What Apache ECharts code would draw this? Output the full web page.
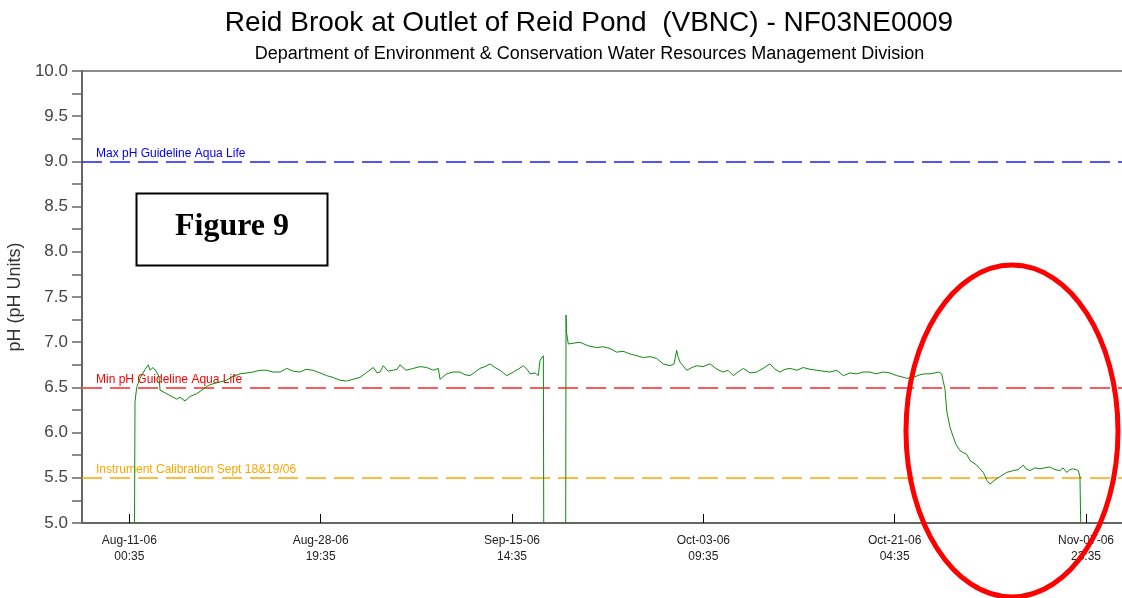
<!DOCTYPE html>
<html>
<head>
<meta charset="utf-8">
<script src="https://cdn.jsdelivr.net/npm/echarts@6/dist/echarts.min.js"></script>
<style>
html,body{margin:0;padding:0;background:#fff;}
#chart{width:1122px;height:598px;}
</style>
</head>
<body>
<div id="chart"></div>
<script>
// ---- data (hours since Aug-11-06 00:35, pH) ----
const titleText = 'Reid Brook at Outlet of Reid Pond  (VBNC) - NF03NE0009';
const subtitleText = 'Department of Environment & Conservation Water Resources Management Division';
const yAxisName = 'pH (pH Units)';
const figureLabel = 'Figure 9';

const xTickHours = [0, 427, 854, 1281, 1708, 2135];
const xTickDates = ['Aug-11-06', 'Aug-28-06', 'Sep-15-06', 'Oct-03-06', 'Oct-21-06', 'Nov-07-06'];
const xTickTimes = ['00:35', '19:35', '14:35', '09:35', '04:35', '23:35'];
const xMin = -105.6;
const xMax = 2215.4;

const guideValues = [9.0, 6.5, 5.5];
const guideLabels = ['Max pH Guideline Aqua Life', 'Min pH Guideline Aqua Life', 'Instrument Calibration Sept 18&19/06'];

const phHours = [
  11.6, 12.7, 16.5, 23.9, 35.4, 42.4, 46.2, 52.9, 59.6, 66.3, 68.5, 79.7, 90.8, 105.8, 113.1, 124.3,
  135.5, 150.4, 164.5, 175.6, 186.8, 202.4, 217.4, 231.4, 247.0, 262.7, 276.1, 291.7, 306.6, 320.7,
  336.3, 351.3, 365.3, 380.9, 394.4, 409.9, 425.6, 440.5, 454.6, 470.0, 485.2, 499.2, 514.9, 528.2,
  544.5, 552.8, 559.5, 566.8, 577.3, 589.2, 597.4, 604.1, 617.5, 633.8, 648.8, 663.7, 678.4, 689.6,
  693.4, 708.3, 722.4, 738.0, 749.2, 760.4, 771.5, 782.7, 793.8, 805.0, 816.2, 827.3, 842.3, 857.0,
  867.5, 879.3, 887.6, 894.3, 905.4, 912.8, 916.6, 924.0, 924.9,
  930.0,
  973.9, 974.6, 975.7, 979.7, 992.4, 1005.8, 1023.7, 1043.1, 1057.2, 1072.8, 1087.7, 1101.8, 1117.5,
  1133.1, 1147.1, 1162.1, 1177.0, 1191.7, 1206.7, 1215.6, 1221.6, 1224.5, 1229.0, 1243.9, 1255.8,
  1266.3, 1280.3, 1296.0, 1311.6, 1325.6, 1336.1, 1348.0, 1358.4, 1370.3, 1385.2, 1400.2, 1414.2,
  1429.9, 1441.0, 1452.2, 1463.3, 1474.5, 1490.1, 1504.2, 1519.1, 1534.1, 1548.1, 1563.8, 1578.7,
  1593.4, 1608.4, 1623.4, 1637.4, 1653.0, 1666.4, 1682.7, 1697.6, 1712.6, 1722.2, 1734.9, 1749.0,
  1764.6, 1775.7, 1786.9, 1798.0, 1805.4, 1813.0, 1815.9, 1820.4, 1824.2, 1831.5, 1838.9, 1845.0,
  1853.9, 1860.6, 1868.8, 1876.2, 1882.9, 1891.2, 1898.5, 1905.9, 1914.2, 1920.9, 1927.6, 1935.8,
  1945.4, 1958.1, 1972.8, 1983.3, 1995.1, 2001.2, 2010.1, 2021.3, 2032.4, 2043.6, 2054.7, 2065.9,
  2077.0, 2083.7, 2091.9, 2099.3, 2106.7, 2112.7, 2117.9, 2121.6, 2123.2
];
const phValues = [
  5.00, 6.34, 6.50, 6.60, 6.70, 6.75, 6.69, 6.72, 6.68, 6.62, 6.47, 6.44, 6.41, 6.37, 6.39, 6.35,
  6.40, 6.43, 6.48, 6.52, 6.54, 6.56, 6.58, 6.62, 6.65, 6.66, 6.67, 6.69, 6.69, 6.67,
  6.67, 6.71, 6.68, 6.67, 6.70, 6.69, 6.66, 6.63, 6.61, 6.58, 6.57, 6.59, 6.61, 6.66,
  6.72, 6.66, 6.67, 6.74, 6.68, 6.69, 6.70, 6.75, 6.69, 6.71, 6.73, 6.72, 6.69, 6.71,
  6.59, 6.65, 6.67, 6.67, 6.64, 6.63, 6.67, 6.71, 6.73, 6.76, 6.72, 6.69, 6.63, 6.67,
  6.70, 6.74, 6.70, 6.65, 6.66, 6.63, 6.80, 6.85, 5.00,
  null,
  5.00, 7.30, 7.11, 6.98, 6.99, 7.00, 6.96, 6.94, 6.95, 6.93, 6.89, 6.90, 6.87,
  6.85, 6.83, 6.84, 6.82, 6.76, 6.74, 6.76, 6.91, 6.84, 6.78, 6.69, 6.72,
  6.74, 6.73, 6.76, 6.70, 6.67, 6.69, 6.63, 6.67, 6.71, 6.66, 6.67, 6.71,
  6.76, 6.70, 6.67, 6.70, 6.71, 6.69, 6.72, 6.70, 6.69, 6.68, 6.67, 6.69,
  6.63, 6.66, 6.65, 6.67, 6.67, 6.65, 6.67, 6.66, 6.63, 6.62, 6.60, 6.61,
  6.64, 6.65, 6.65, 6.66, 6.67, 6.65, 6.58, 6.48, 6.24, 6.06, 5.95, 5.87,
  5.80, 5.78, 5.76, 5.69, 5.67, 5.64, 5.60, 5.56, 5.47, 5.43, 5.46, 5.49,
  5.52, 5.56, 5.58, 5.59, 5.64, 5.60, 5.58, 5.61, 5.60, 5.61, 5.62, 5.59,
  5.58, 5.61, 5.56, 5.59, 5.60, 5.59, 5.58, 5.51, 5.00
];

// ---- chart ----
const seriesData = phHours.map((h, i) => [h, phValues[i]]);
const axisColor = '#666';
const guideStyles = [
  { color: '#1a1aff', width: 1.5, label: '#0000ff' },
  { color: '#ff5a5a', width: 2, label: '#ff0000' },
  { color: '#ffa500', width: 1.5, label: '#ffa500' }
];

const chart = echarts.init(document.getElementById('chart'), null, { renderer: 'canvas' });

const option = {
  backgroundColor: '#ffffff',
  animation: false,
  title: [
    {
      text: titleText,
      left: 584, top: 4, textAlign: 'center',
      textStyle: { fontFamily: 'Liberation Sans, Arial', fontSize: 28, fontWeight: 'normal', color: '#000' }
    },
    {
      text: subtitleText,
      left: 584.5, top: 40, textAlign: 'center',
      textStyle: { fontFamily: 'Liberation Sans, Arial', fontSize: 18, fontWeight: 'normal', color: '#000' }
    }
  ],
  grid: { left: 82, right: 0, top: 71, bottom: 75, containLabel: false, outerBoundsMode: 'none' },
  xAxis: [
    {
      type: 'value',
      min: xMin, max: xMax,
      position: 'bottom',
      axisLine: { show: true, onZero: false, lineStyle: { color: axisColor, width: 2 } },
      splitLine: { show: false },
      axisTick: {
        show: true, inside: true, length: 9,
        customValues: xTickHours,
        lineStyle: { color: '#000', width: 1 }
      },
      axisLabel: {
        customValues: xTickHours,
        margin: 10,
        fontFamily: 'Liberation Sans, Arial',
        fontSize: 12, lineHeight: 16, color: '#222',
        formatter: function (v) {
          let idx = -1;
          for (let i = 0; i < xTickHours.length; i++) {
            if (Math.abs(xTickHours[i] - v) < 1) idx = i;
          }
          return idx >= 0 ? xTickDates[idx] + '\n' + xTickTimes[idx] : '';
        }
      }
    },
    {
      type: 'value',
      min: xMin, max: xMax,
      position: 'top',
      axisLine: { show: true, onZero: false, lineStyle: { color: axisColor, width: 1.5 } },
      axisTick: { show: false },
      axisLabel: { show: false },
      splitLine: { show: false }
    }
  ],
  yAxis: {
    type: 'value',
    min: 5, max: 10, interval: 0.5,
    name: yAxisName,
    nameLocation: 'middle',
    nameGap: 46,
    nameRotate: 90,
    nameTextStyle: { fontFamily: 'Liberation Sans, Arial', fontSize: 18, color: '#333' },
    axisLine: { show: true, onZero: false, lineStyle: { color: axisColor, width: 2 } },
    axisTick: { show: true, inside: false, length: 10, lineStyle: { color: axisColor, width: 1.5 } },
    minorTick: { show: true, splitNumber: 2, length: 10, lineStyle: { color: axisColor, width: 1.5 } },
    splitLine: { show: false },
    axisLabel: {
      margin: 14,
      fontFamily: 'Liberation Sans, Arial',
      fontSize: 17, color: '#444',
      formatter: function (v) { return v.toFixed(1); }
    }
  },
  series: [
    {
      type: 'line',
      data: seriesData,
      showSymbol: false,
      connectNulls: false,
      lineStyle: { color: '#118a11', width: 1 },
      itemStyle: { color: '#118a11' },
      clip: true,
      z: 3,
      markLine: {
        silent: true,
        symbol: ['none', 'none'],
        animation: false,
        data: guideValues.map((v, i) => ({
          yAxis: v,
          lineStyle: { color: guideStyles[i].color, width: guideStyles[i].width, type: [20, 8], opacity: 1 },
          label: {
            show: true,
            position: 'insideStartTop',
            formatter: guideLabels[i],
            color: guideStyles[i].label,
            fontFamily: 'Liberation Sans, Arial',
            fontSize: 12,
            distance: [14, 2]
          }
        })),
        z: 2
      }
    }
  ],
  graphic: [
    {
      type: 'rect',
      shape: { x: 136.5, y: 193.5, width: 191, height: 72 },
      style: { fill: '#fff', stroke: '#000', lineWidth: 2 },
      z: 10
    },
    {
      type: 'text',
      x: 232, y: 227,
      style: {
        text: figureLabel,
        fill: '#000',
        font: 'bold 32px "Liberation Serif", "Times New Roman", serif',
        textAlign: 'center',
        textVerticalAlign: 'middle'
      },
      z: 11
    },
    {
      type: 'ellipse',
      shape: { cx: 1012, cy: 431, rx: 106, ry: 166 },
      style: { fill: null, stroke: '#ff0000', lineWidth: 5 },
      z: 12
    }
  ]
};

chart.setOption(option);
</script>
</body>
</html>
